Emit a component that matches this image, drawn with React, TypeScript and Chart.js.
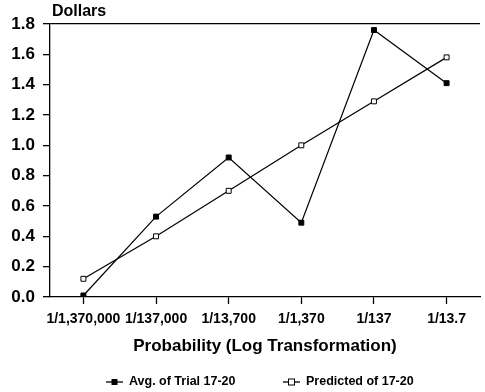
import React, { useEffect, useRef } from 'react';
import { Chart, registerables } from 'chart.js';

Chart.register(...registerables);

const categories = ['1/1,370,000', '1/137,000', '1/13,700', '1/1,370', '1/137', '1/13.7'];
const avgValues = [0.01, 0.53, 0.92, 0.49, 1.76, 1.41];
const predictedValues = [0.12, 0.4, 0.7, 1.0, 1.29, 1.58];
const seriesNames = ['Avg. of Trial 17-20', 'Predicted of 17-20'];
const yAxisTitle = 'Dollars';
const xAxisTitle = 'Probability (Log Transformation)';
const yMin = 0;
const yMax = 1.8;
const yStep = 0.2;

const FONT = '"Liberation Sans", Arial, Helvetica, sans-serif';

const extrasPlugin = {
  id: 'extras',
  afterDraw(chart: any) {
    const { ctx, chartArea } = chart;
    ctx.save();
    ctx.fillStyle = '#000';
    ctx.font = `bold 16px ${FONT}`;
    ctx.textAlign = 'left';
    ctx.textBaseline = 'alphabetic';
    ctx.fillText(yAxisTitle, chartArea.left + 2, chartArea.top - 8);

    const ly = 382;
    ctx.font = `bold 12.5px ${FONT}`;
    ctx.textBaseline = 'middle';
    const items = [
      { name: seriesNames[0], filled: true, x: 106 },
      { name: seriesNames[1], filled: false, x: 283 },
    ];
    items.forEach((it) => {
      ctx.strokeStyle = '#000';
      ctx.lineWidth = 1.3;
      ctx.beginPath();
      ctx.moveTo(it.x, ly);
      ctx.lineTo(it.x + 17, ly);
      ctx.stroke();
      const cx = it.x + 8.5;
      if (it.filled) {
        ctx.fillStyle = '#000';
        ctx.fillRect(cx - 3, ly - 3, 6, 6);
      } else {
        ctx.fillStyle = '#fff';
        ctx.fillRect(cx - 3, ly - 3, 6, 6);
        ctx.lineWidth = 1;
        ctx.strokeRect(cx - 3, ly - 3, 6, 6);
      }
      ctx.fillStyle = '#000';
      ctx.fillText(it.name, it.x + 23, ly);
    });
    ctx.restore();
  },
};

export default function App() {
  const ref = useRef<HTMLCanvasElement | null>(null);
  useEffect(() => {
    document.body.style.margin = '0';
    const canvas = ref.current;
    if (!canvas) return;
    const toPoints = (vals: number[]) => vals.map((y, i) => ({ x: i, y }));
    const chart = new Chart(canvas, {
      type: 'line',
      data: {
        datasets: [
          {
            label: seriesNames[0],
            data: toPoints(avgValues),
            borderColor: '#000',
            backgroundColor: '#000',
            borderWidth: 1.2,
            pointStyle: 'rect',
            pointRadius: 3.5,
            pointBackgroundColor: '#000',
            pointBorderColor: '#000',
            pointBorderWidth: 1,
            tension: 0,
          },
          {
            label: seriesNames[1],
            data: toPoints(predictedValues),
            borderColor: '#000',
            backgroundColor: '#fff',
            borderWidth: 1.2,
            pointStyle: 'rect',
            pointRadius: 3.5,
            pointBackgroundColor: '#fff',
            pointBorderColor: '#000',
            pointBorderWidth: 1,
            tension: 0,
          },
        ],
      },
      options: {
        responsive: false,
        animation: false,
        layout: { padding: { left: 0, right: 0, top: 24, bottom: 35 } },
        plugins: {
          legend: { display: false },
          tooltip: { enabled: false },
          title: { display: false },
        },
        scales: {
          x: {
            type: 'linear',
            min: -0.46,
            max: categories.length - 1 + 0.46,
            afterBuildTicks(scale: any) {
              scale.ticks = categories.map((_, i) => ({ value: i }));
            },
            grid: {
              drawOnChartArea: false,
              color: 'transparent',
              tickColor: '#000',
              tickLength: 7,
              tickWidth: 1.3,
            },
            border: { display: true, color: '#000', width: 1.3 },
            ticks: {
              color: '#000',
              padding: 7,
              maxRotation: 0,
              autoSkip: false,
              callback: (v: any) => categories[Math.round(Number(v))] ?? '',
              font: { family: FONT, size: 14, weight: 'bold' },
            },
            title: {
              display: true,
              text: xAxisTitle,
              color: '#000',
              padding: { top: 0, bottom: 0 },
              font: { family: FONT, size: 17, weight: 'bold' },
            },
            afterFit(scale: any) {
              scale.height = 60;
            },
          },
          y: {
            min: yMin,
            max: yMax,
            grid: {
              color: (c: any) =>
                c.tick && Math.abs(c.tick.value - yMax) < 1e-6 ? '#000' : 'transparent',
              lineWidth: 1.3,
              tickColor: '#000',
              tickLength: 7,
              tickWidth: 1.3,
            },
            border: { display: true, color: '#000', width: 1.3 },
            ticks: {
              stepSize: yStep,
              color: '#000',
              padding: 8,
              callback: (v: any) => Number(v).toFixed(1),
              font: { family: FONT, size: 17, weight: 'bold' },
            },
            afterFit(scale: any) {
              scale.width = 50;
            },
          },
        },
      },
      plugins: [extrasPlugin],
    } as any);
    return () => chart.destroy();
  }, []);
  return (
    <div style={{ width: 485, height: 392, background: '#fff' }}>
      <canvas ref={ref} width={485} height={392} />
    </div>
  );
}
